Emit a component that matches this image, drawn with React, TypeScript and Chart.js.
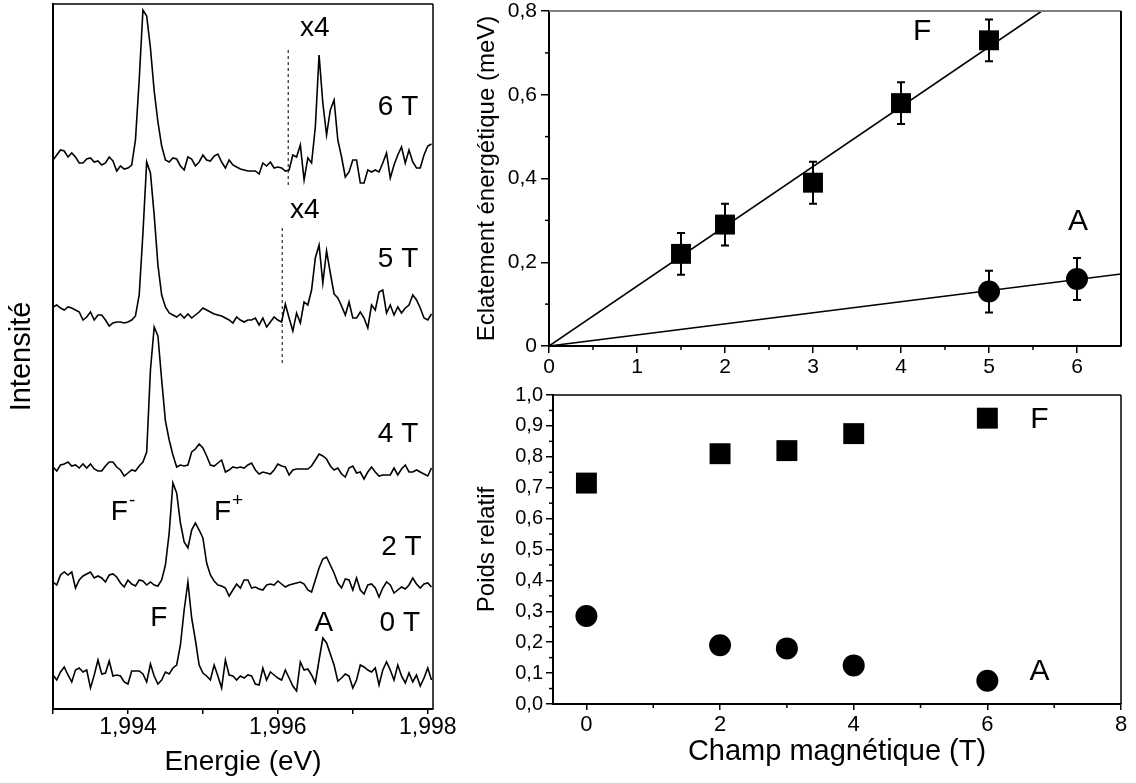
import React, { useEffect, useRef } from "react";
import { Chart, registerables } from "chart.js";

Chart.register(...registerables);

const FONT = "'Liberation Sans', Arial, Helvetica, sans-serif";
const INK = "#000000";

// ---------------- Left panel : photoluminescence spectra ----------------
const energyStart = 1.993; // eV, first sample
const energyStep = 0.00005; // eV between samples
const energyMin = 1.993;
const energyMax = 1.99807;
const energyTicks = [1.993, 1.994, 1.995, 1.996, 1.997, 1.998];
const energyTickLabels = ["", "1,994", "", "1,996", "", "1,998"];
const intensityMax = 705;

const fieldNames = ["0 T", "2 T", "4 T", "5 T", "6 T"];
const spectrumOffsets = [31, 126, 241, 396, 549];

const spectrum0T = [
  3, -2, 6, 11, 3, -4, 8, 10, 6, 8,
  -10, 3, 18, 4, 5, 17, 2, 3, 2, -4,
  -6, 7, 7, 7, 4, -4, 14, 2, -6, -2,
  6, 4, 10, 13, 33, 68, 96, 60, 38, 13,
  5, 2, -2, 13, 2, -10, 18, 3, 2, -2,
  2, 0, 3, 2, -6, -7, 10, -2, 6, 3,
  0, -2, 8, 0, -8, -13, 16, 8, 9, 3,
  -5, 18, 40, 35, 24, 13, -3, 0, 4, 2,
  -10, -2, 13, 11, 8, 6, 10, -7, 8, 16,
  8, -2, 13, 2, -5, 5, -4, 3, -8, 0,
  10, -2,
];
const spectrum2T = [
  1, -2, 8, 11, 8, 11, -5, 3, 7, 9,
  11, 5, 7, 5, 1, 8, 9, 6, 0, -4,
  3, -1, -3, 3, 2, -2, 1, -2, -3, 3,
  18, 50, 100, 90, 60, 41, 35, 53, 60, 53,
  45, 20, 8, 2, -2, -3, -5, -13, -7, -1,
  -5, 3, 3, -5, -4, -6, -7, -2, -1, -2,
  2, -1, -4, -2, -1, 0, 1, -1, -7, -9,
  3, 15, 24, 26, 18, 10, 0, -5, 4, 3,
  -7, 5, -7, -11, -2, -1, -5, -14, -5, 1,
  -2, -10, -7, -4, -6, -2, 5, -1, -5, -1,
  0, -4,
];
const spectrum4T = [
  1, -3, 3, 4, 6, 2, 3, 0, 4, 0,
  4, -1, -3, -3, 2, 6, 6, 1, -2, -8,
  -5, -2, -3, 2, 6, 16, 98, 141, 132, 88,
  47, 28, 13, 1, 3, 2, 3, 16, 19, 24,
  20, 12, 3, 2, 5, 8, -4, -2, 1, 0,
  1, 0, 3, 5, -2, -6, -4, -5, -6, -2,
  4, 2, 1, -7, -2, -1, -1, -1, -1, 2,
  8, 14, 12, 9, 2, -2, 0, -6, -9, 0,
  2, -5, -4, -11, -4, 1, -4, -8, -7, -7,
  -7, 0, -7, -1, 3, -4, -4, -2, -4, -6,
  -8, 0,
];
const spectrum5T = [
  6, 8, 5, 3, 6, 5, 3, 1, -7, -4,
  1, -7, -2, -2, -7, -13, -10, -9, -9, -10,
  -9, -7, -3, 18, 80, 151, 140, 98, 48, 18,
  6, 0, -2, -4, -1, -5, -1, -5, -2, 1,
  5, 3, 1, -1, -2, -3, -5, -7, -10, -4,
  -7, -9, -7, -7, -5, -12, -5, -14, -9, -4,
  -7, -9, 9, -5, -18, 0, -10, 11, 8, 23,
  55, 68, 30, 62, 40, 19, 15, 7, -2, 11,
  -5, -5, 1, -5, -15, 8, 3, 21, 23, 0,
  8, -2, 6, 0, 5, 8, 18, 13, 5, -5,
  -7, -1,
];
const spectrum6T = [
  0, 5, 10, 9, 3, 7, 3, -3, -3, 1,
  2, -2, -1, -5, -3, 3, -1, -11, -6, -9,
  -8, -5, 20, 80, 150, 144, 112, 69, 38, 14,
  0, -2, 2, 1, -6, -10, 3, 1, -6, -2,
  5, 0, -1, 4, 6, -2, -8, 0, -5, -7,
  -9, -10, -11, -11, -11, -14, -3, -6, -2, -8,
  -7, -8, -11, -10, 5, 3, 15, -20, 2, -3,
  33, 105, 57, 25, 50, 60, 20, 3, -17, -12,
  0, 0, -23, -23, -10, -12, -10, -12, -3, 7,
  -18, -5, 5, 13, -3, 10, -2, -8, -8, 5,
  14, 16,
];
const spectra = [spectrum0T, spectrum2T, spectrum4T, spectrum5T, spectrum6T];

// dashed "x4" separators (5 T and 6 T)
const x4Energy = [1.996058, 1.996138];
const x4Bottom = [346, 524];
const x4Top = [483, 661];

const spectrumTexts = [
  { text: "x4", x: 1.996493, y: 681, size: 28 },
  { text: "6 T", x: 1.997604, y: 602, size: 28 },
  { text: "x4", x: 1.99636, y: 499, size: 28 },
  { text: "5 T", x: 1.997604, y: 450, size: 28 },
  { text: "4 T", x: 1.997604, y: 275, size: 28 },
  { text: "2 T", x: 1.997649, y: 162, size: 28 },
  { text: "0 T", x: 1.997627, y: 86, size: 28 },
  { text: "F", sup: "-", x: 1.993885, y: 197, size: 28 },
  { text: "F", sup: "+", x: 1.995262, y: 197, size: 28 },
  { text: "F", x: 1.994413, y: 91, size: 28 },
  { text: "A", x: 1.996613, y: 86, size: 28 },
];

// ---------------- Top right : Zeeman splitting ----------------
const splitFieldF = [1.5, 2, 3, 4, 5];
const splitValueF = [0.22, 0.29, 0.39, 0.58, 0.73];
const splitErrorF = [0.05, 0.05, 0.05, 0.05, 0.05];
const splitFieldA = [5, 6];
const splitValueA = [0.13, 0.16];
const splitErrorA = [0.05, 0.05];
const fitFieldF = [0, 5.6];
const fitValueF = [0, 0.8];
const fitFieldA = [0, 6.5];
const fitValueA = [0, 0.172];
const splitXTicks = [0, 1, 2, 3, 4, 5, 6];
const splitXTickLabels = ["0", "1", "2", "3", "4", "5", "6"];
const splitXMinor = [0.5, 1.5, 2.5, 3.5, 4.5, 5.5];
const splitYTicks = [0, 0.2, 0.4, 0.6, 0.8];
const splitYTickLabels = ["0", "0,2", "0,4", "0,6", "0,8"];
const splitYMinor = [0.1, 0.3, 0.5, 0.7];
const splitTexts = [
  { text: "F", x: 4.24, y: 0.75, size: 30 },
  { text: "A", x: 6.01, y: 0.296, size: 30 },
];

// ---------------- Bottom right : relative weights ----------------
const weightField = [0, 2, 3, 4, 6];
const weightF = [0.715, 0.81, 0.82, 0.875, 0.925];
const weightA = [0.285, 0.19, 0.18, 0.125, 0.075];
const weightXTicks = [0, 2, 4, 6, 8];
const weightXTickLabels = ["0", "2", "4", "6", "8"];
const weightXMinor = [1, 3, 5, 7];
const weightYTicks = [0, 0.1, 0.2, 0.3, 0.4, 0.5, 0.6, 0.7, 0.8, 0.9, 1.0];
const weightYTickLabels = ["0,0", "0,1", "0,2", "0,3", "0,4", "0,5", "0,6", "0,7", "0,8", "0,9", "1,0"];
const weightYMinor = [0.05, 0.15, 0.25, 0.35, 0.45, 0.55, 0.65, 0.75, 0.85, 0.95];
const weightTexts = [
  { text: "F", x: 6.78, y: 0.92, size: 30 },
  { text: "A", x: 6.78, y: 0.105, size: 30 },
];

// ---------------- helpers ----------------
function fixedSize(size: number) {
  return (scale: any) => {
    if (scale.isHorizontal()) scale.height = size;
    else scale.width = size;
    scale.paddingLeft = 0;
    scale.paddingRight = 0;
    scale.paddingTop = 0;
    scale.paddingBottom = 0;
  };
}

function setTicks(values: number[]) {
  return (scale: any) => {
    scale.ticks = values.map((v) => ({ value: v }));
  };
}

function framePlugin(topColor: string, rightColor: string, width: number) {
  return {
    id: "frame",
    afterDatasetsDraw(chart: any) {
      const { ctx, chartArea: a } = chart;
      ctx.save();
      ctx.lineWidth = width;
      ctx.strokeStyle = topColor;
      ctx.beginPath();
      ctx.moveTo(a.left, a.top);
      ctx.lineTo(a.right, a.top);
      ctx.stroke();
      ctx.strokeStyle = rightColor;
      ctx.beginPath();
      ctx.moveTo(a.right, a.top);
      ctx.lineTo(a.right, a.bottom);
      ctx.stroke();
      ctx.restore();
    },
  };
}

function textPlugin(items: any[]) {
  return {
    id: "texts",
    afterDatasetsDraw(chart: any) {
      const ctx = chart.ctx;
      const xs = chart.scales.x;
      const ys = chart.scales.y;
      ctx.save();
      ctx.fillStyle = INK;
      ctx.textBaseline = "middle";
      for (const t of items) {
        const px = xs.getPixelForValue(t.x);
        const py = ys.getPixelForValue(t.y);
        ctx.font = `${t.size}px ${FONT}`;
        ctx.textAlign = "center";
        ctx.fillText(t.text, px, py);
        if (t.sup) {
          const w = ctx.measureText(t.text).width;
          ctx.font = `${Math.round(t.size * 0.68)}px ${FONT}`;
          ctx.textAlign = "left";
          ctx.fillText(t.sup, px + w / 2 + 1, py - t.size * 0.4);
        }
      }
      ctx.restore();
    },
  };
}

function minorTicksPlugin(specs: { axis: string; values: number[]; length: number }[]) {
  return {
    id: "minorTicks",
    afterDraw(chart: any) {
      const ctx = chart.ctx;
      ctx.save();
      ctx.strokeStyle = INK;
      ctx.lineWidth = 1.5;
      for (const s of specs) {
        const scale = chart.scales[s.axis];
        for (const v of s.values) {
          const p = scale.getPixelForValue(v);
          ctx.beginPath();
          if (scale.isHorizontal()) {
            ctx.moveTo(p, scale.top);
            ctx.lineTo(p, scale.top + s.length);
          } else {
            ctx.moveTo(scale.right, p);
            ctx.lineTo(scale.right - s.length, p);
          }
          ctx.stroke();
        }
      }
      ctx.restore();
    },
  };
}

function errorBarPlugin(sets: { xs: number[]; ys: number[]; errs: number[] }[]) {
  return {
    id: "errorBars",
    beforeDatasetsDraw(chart: any) {
      const ctx = chart.ctx;
      const xs = chart.scales.x;
      const ys = chart.scales.y;
      ctx.save();
      ctx.strokeStyle = INK;
      ctx.lineWidth = 2;
      for (const s of sets) {
        s.xs.forEach((xv, i) => {
          const px = xs.getPixelForValue(xv);
          const pTop = ys.getPixelForValue(s.ys[i] + s.errs[i]);
          const pBot = ys.getPixelForValue(s.ys[i] - s.errs[i]);
          ctx.beginPath();
          ctx.moveTo(px, pTop);
          ctx.lineTo(px, pBot);
          ctx.moveTo(px - 4, pTop);
          ctx.lineTo(px + 4, pTop);
          ctx.moveTo(px - 4, pBot);
          ctx.lineTo(px + 4, pBot);
          ctx.stroke();
        });
      }
      ctx.restore();
    },
  };
}

function tickFont(size: number) {
  return { family: FONT, size };
}

function axisGrid(tickLength: number) {
  return {
    display: true,
    drawOnChartArea: false,
    drawTicks: true,
    tickLength,
    color: INK,
    lineWidth: 1.5,
  };
}

const axisBorder = { display: true, color: INK, width: 2 };

const baseOptions = {
  animation: false,
  responsive: false,
  maintainAspectRatio: false,
  devicePixelRatio: 1,
  events: [],
  plugins: { legend: { display: false }, tooltip: { enabled: false }, title: { display: false } },
};

// ---------------- chart builders ----------------
function buildSpectra() {
  const lineSets = spectra.map((vals, k) => ({
    label: fieldNames[k],
    data: vals.map((v, i) => ({ x: energyStart + i * energyStep, y: spectrumOffsets[k] + v })),
    showLine: true,
    borderColor: INK,
    borderWidth: 1.6,
    pointRadius: 0,
    tension: 0,
  }));
  const dashSets = x4Energy.map((e, k) => ({
    label: "x4-" + k,
    data: [
      { x: e, y: x4Bottom[k] },
      { x: e, y: x4Top[k] },
    ],
    showLine: true,
    borderColor: INK,
    borderWidth: 1,
    borderDash: [3, 3],
    pointRadius: 0,
  }));
  return {
    type: "scatter",
    data: { datasets: [...lineSets, ...dashSets] },
    options: {
      ...baseOptions,
      layout: { padding: { left: 0, right: 37, top: 4, bottom: 4 }, autoPadding: false },
      scales: {
        x: {
          type: "linear",
          position: "bottom",
          bounds: "data",
          min: energyMin,
          max: energyMax,
          afterBuildTicks: setTicks(energyTicks),
          afterFit: fixedSize(70),
          ticks: {
            callback: (_v: any, i: number) => energyTickLabels[i],
            font: tickFont(23),
            color: INK,
            padding: 0,
            autoSkip: false,
            maxRotation: 0,
            minRotation: 0,
          },
          grid: axisGrid(5),
          border: axisBorder,
          title: {
            display: true,
            text: "Energie (eV)",
            font: { family: FONT, size: 28 },
            color: INK,
            padding: { top: 0, bottom: 0 },
          },
        },
        y: {
          type: "linear",
          position: "left",
          bounds: "data",
          min: 0,
          max: intensityMax,
          afterFit: fixedSize(53),
          ticks: { display: false },
          grid: { display: false },
          border: axisBorder,
          title: {
            display: true,
            text: "Intensité",
            font: { family: FONT, size: 29 },
            color: INK,
            padding: { top: 5, bottom: 0 },
          },
        },
      },
    },
    plugins: [framePlugin(INK, INK, 1.5), textPlugin(spectrumTexts)],
  };
}

function buildSplitting() {
  return {
    type: "scatter",
    data: {
      datasets: [
        {
          label: "fit F",
          data: fitFieldF.map((x, i) => ({ x, y: fitValueF[i] })),
          showLine: true,
          borderColor: INK,
          borderWidth: 1.6,
          pointRadius: 0,
        },
        {
          label: "fit A",
          data: fitFieldA.map((x, i) => ({ x, y: fitValueA[i] })),
          showLine: true,
          borderColor: INK,
          borderWidth: 1.6,
          pointRadius: 0,
        },
        {
          label: "F",
          data: splitFieldF.map((x, i) => ({ x, y: splitValueF[i] })),
          pointStyle: "rect",
          pointRadius: 14.1,
          backgroundColor: INK,
          borderWidth: 0,
        },
        {
          label: "A",
          data: splitFieldA.map((x, i) => ({ x, y: splitValueA[i] })),
          pointStyle: "circle",
          pointRadius: 11,
          backgroundColor: INK,
          borderWidth: 0,
        },
      ],
    },
    options: {
      ...baseOptions,
      layout: { padding: { left: 0, right: 15, top: 11, bottom: 0 }, autoPadding: false },
      scales: {
        x: {
          type: "linear",
          position: "bottom",
          bounds: "data",
          min: 0,
          max: 6.5,
          afterBuildTicks: setTicks(splitXTicks),
          afterFit: fixedSize(34),
          ticks: {
            callback: (_v: any, i: number) => splitXTickLabels[i],
            font: tickFont(21),
            color: INK,
            padding: 2,
            autoSkip: false,
            maxRotation: 0,
            minRotation: 0,
          },
          grid: axisGrid(7),
          border: axisBorder,
        },
        y: {
          type: "linear",
          position: "left",
          bounds: "data",
          min: 0,
          max: 0.8,
          afterBuildTicks: setTicks(splitYTicks),
          afterFit: fixedSize(79),
          ticks: {
            callback: (_v: any, i: number) => splitYTickLabels[i],
            font: tickFont(21),
            color: INK,
            padding: 4,
            autoSkip: false,
          },
          grid: axisGrid(8),
          border: axisBorder,
          title: {
            display: true,
            text: "Eclatement énergétique (meV)",
            font: { family: FONT, size: 24 },
            color: INK,
            padding: { top: 3, bottom: 0 },
          },
        },
      },
    },
    plugins: [
      errorBarPlugin([
        { xs: splitFieldF, ys: splitValueF, errs: splitErrorF },
        { xs: splitFieldA, ys: splitValueA, errs: splitErrorA },
      ]),
      framePlugin("#7f7f7f", INK, 2),
      minorTicksPlugin([
        { axis: "x", values: splitXMinor, length: 4 },
        { axis: "y", values: splitYMinor, length: 4 },
      ]),
      textPlugin(splitTexts),
    ],
  };
}

function buildWeights() {
  return {
    type: "scatter",
    data: {
      datasets: [
        {
          label: "F",
          data: weightField.map((x, i) => ({ x, y: weightF[i] })),
          pointStyle: "rect",
          pointRadius: 14.8,
          backgroundColor: INK,
          borderWidth: 0,
        },
        {
          label: "A",
          data: weightField.map((x, i) => ({ x, y: weightA[i] })),
          pointStyle: "circle",
          pointRadius: 11,
          backgroundColor: INK,
          borderWidth: 0,
        },
      ],
    },
    options: {
      ...baseOptions,
      layout: { padding: { left: 0, right: 15, top: 15, bottom: 14 }, autoPadding: false },
      scales: {
        x: {
          type: "linear",
          position: "bottom",
          bounds: "data",
          min: -0.5,
          max: 8,
          afterBuildTicks: setTicks(weightXTicks),
          afterFit: fixedSize(65),
          ticks: {
            callback: (_v: any, i: number) => weightXTickLabels[i],
            font: tickFont(22),
            color: INK,
            padding: 2,
            autoSkip: false,
            maxRotation: 0,
            minRotation: 0,
          },
          grid: axisGrid(6),
          border: axisBorder,
          title: {
            display: true,
            text: "Champ magnétique (T)",
            font: { family: FONT, size: 29 },
            color: INK,
            padding: { top: 0, bottom: 0 },
          },
        },
        y: {
          type: "linear",
          position: "left",
          bounds: "data",
          min: 0,
          max: 1.0,
          afterBuildTicks: setTicks(weightYTicks),
          afterFit: fixedSize(83),
          ticks: {
            callback: (_v: any, i: number) => weightYTickLabels[i],
            font: tickFont(20),
            color: INK,
            padding: 3,
            autoSkip: false,
          },
          grid: axisGrid(7),
          border: axisBorder,
          title: {
            display: true,
            text: "Poids relatif",
            font: { family: FONT, size: 24 },
            color: INK,
            padding: { top: 3, bottom: 0 },
          },
        },
      },
    },
    plugins: [
      framePlugin(INK, INK, 1.5),
      minorTicksPlugin([
        { axis: "x", values: weightXMinor, length: 4 },
        { axis: "y", values: weightYMinor, length: 4 },
      ]),
      textPlugin(weightTexts),
    ],
  };
}

function PanelCanvas(props: { left: number; top: number; width: number; height: number; build: () => any }) {
  const { left, top, width, height, build } = props;
  const ref = useRef<HTMLCanvasElement | null>(null);
  useEffect(() => {
    if (!ref.current) return;
    const chart = new Chart(ref.current, build());
    return () => chart.destroy();
  }, [build]);
  return (
    <canvas
      ref={ref}
      width={width}
      height={height}
      style={{ position: "absolute", left, top, width, height, display: "block" }}
    />
  );
}

export default function App() {
  return (
    <div
      style={{
        position: "absolute",
        left: 0,
        top: 0,
        width: 1136,
        height: 783,
        background: "#ffffff",
        overflow: "hidden",
      }}
    >
      <PanelCanvas left={0} top={0} width={470} height={783} build={buildSpectra} />
      <PanelCanvas left={470} top={0} width={666} height={380} build={buildSplitting} />
      <PanelCanvas left={470} top={380} width={666} height={403} build={buildWeights} />
    </div>
  );
}
